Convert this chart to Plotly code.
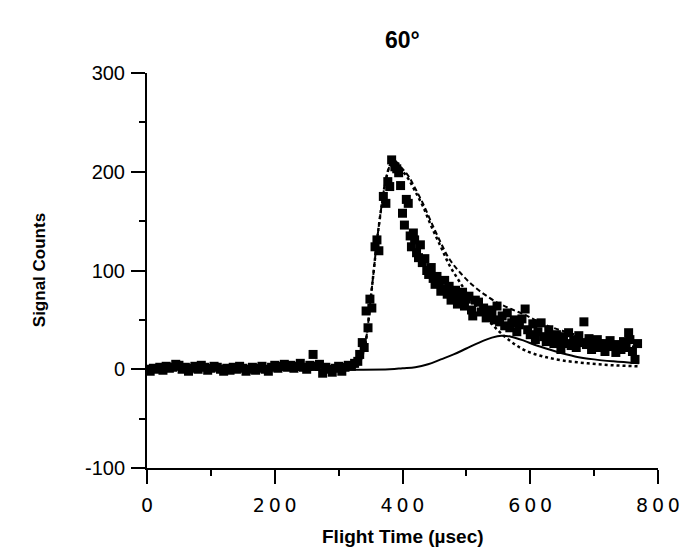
import plotly.graph_objects as go

# measured signal (squares)
data_t = [0, 5, 10, 15, 20, 25, 30, 35, 40, 45, 50, 55, 60, 65, 70, 75, 80, 85, 90, 95,
          100, 105, 110, 115, 120, 125, 130, 135, 140, 145, 150, 155, 160, 165, 170, 175,
          180, 185, 190, 195, 200, 205, 210, 215, 220, 225, 230, 235, 240, 245, 250, 255,
          260, 265, 270, 275, 280, 285, 290, 295, 300, 305, 310, 315, 320, 325, 330,
          333, 337, 340, 343, 346, 349, 352, 357, 360, 363, 370, 374, 377, 380, 383, 388,
          391, 394, 397, 400, 403, 406, 409, 412, 414, 417, 419, 422, 425, 428, 431, 435,
          438, 441, 445, 448, 451, 454, 457, 460, 463, 466, 470, 473, 476, 479, 483, 486,
          490, 494, 497, 500, 504, 508, 510, 514, 519, 523, 527, 531, 535, 540, 544, 548,
          552, 556, 560, 564, 568, 571, 575, 579, 583, 587, 592, 596, 600, 604, 608, 612,
          617, 621, 625, 629, 633, 637, 641, 645, 648, 652, 656, 660, 664, 668, 672, 676,
          680, 684, 688, 692, 696, 700, 705, 709, 713, 717, 721, 725, 730, 734, 738, 742,
          746, 750, 754, 756, 760, 764, 768]
data_counts = [0, -2, 1, 0, 2, -1, 3, 1, 2, 5, 4, 0, 2, -2, 1, 3, 0, 4, 2, -1,
               1, 3, 2, 0, -2, 1, -1, 2, 0, 3, 1, -2, 0, 2, -1, 1,
               3, 0, -2, 2, 4, 1, 3, 5, 2, 4, 1, 3, 6, 2, 0, 4,
               15, 3, 5, -4, 2, 0, -3, 1, 3, -2, 2, 4, 3, 6, 8,
               15, 27, 22, 59, 42, 71, 62, 124, 131, 120, 175, 168, 190, 185, 212, 205,
               203, 199, 186, 158, 146, 172, 168, 135, 124, 138, 131, 118, 113, 126, 108, 112,
               100, 96, 103, 92, 86, 94, 88, 79, 81, 90, 76, 84, 70, 74, 80, 66,
               72, 78, 64, 71, 74, 60, 54, 70, 68, 58, 62, 52, 60, 58, 50, 64,
               48, 54, 44, 57, 42, 47, 50, 38, 45, 51, 61, 40, 35, 46, 30, 38,
               47, 33, 28, 40, 32, 26, 35, 29, 20, 33, 26, 37, 24, 30, 22, 34,
               27, 48, 25, 31, 20, 28, 30, 22, 26, 18, 24, 29, 23, 17, 25, 20,
               28, 22, 37, 30, 18, 10, 26]

# fast component (dotted)
fast_t = [0, 300, 320, 330, 340, 345, 350, 355, 360, 365, 370, 375, 380, 386, 392, 400,
          410, 420, 432, 445, 460, 473, 490, 510, 530, 550, 570, 592, 620, 650, 690, 730, 770]
fast_counts = [0, 0, 1, 4, 20, 40, 70, 100, 130, 155, 178, 195, 206, 212, 208, 201,
               192, 180, 165, 145, 124, 106, 88, 69, 53, 39, 28, 19, 13, 9, 6, 4, 3]

# slow component (solid)
slow_t = [0, 380, 400, 420, 440, 460, 480, 500, 520, 540, 555, 570, 590, 610, 640, 670,
          700, 730, 770]
slow_counts = [0, 0, 1, 2, 5, 10, 15, 21, 27, 32, 34, 33, 29, 24, 18, 13, 10, 8, 6]

# total fit (dashed)
total_t = [0, 300, 320, 330, 340, 345, 350, 355, 360, 365, 370, 375, 380, 386, 392, 400,
           410, 420, 432, 445, 460, 473, 490, 510, 530, 550, 570, 592, 620, 650, 690,
           730, 770]
total_counts = [0, 0, 1, 4, 20, 40, 70, 100, 130, 155, 178, 195, 206, 212, 209, 203,
                195, 183, 168, 149, 128, 112, 98, 85, 75, 67, 61, 55, 46, 39, 32, 27, 22]

x_ticks = [0, 200, 400, 600, 800]
x_ticktext = ["0", "2\u20090\u20090", "4\u20090\u20090", "6\u20090\u20090", "8\u20090\u20090"]
y_ticks = [-100, 0, 100, 200, 300]
y_ticktext = ["-100", "0", "100", "200", "300"]

fig = go.Figure()
fig.add_trace(go.Scatter(x=slow_t, y=slow_counts, mode="lines",
                         line=dict(color="black", width=2), line_shape="spline"))
fig.add_trace(go.Scatter(x=fast_t, y=fast_counts, mode="lines",
                         line=dict(color="black", width=2.5, dash="dot"), line_shape="spline"))
fig.add_trace(go.Scatter(x=total_t, y=total_counts, mode="lines",
                         line=dict(color="black", width=2, dash="5px,3px"), line_shape="spline"))
fig.add_trace(go.Scatter(x=data_t, y=data_counts, mode="markers",
                         marker=dict(symbol="square", size=9, color="black")))

# page body has an 8px margin, so the figure is a bit smaller than the window
fig.update_layout(
    width=684, height=550,
    margin=dict(l=139, r=27, t=65, b=90),
    paper_bgcolor="white", plot_bgcolor="white",
    showlegend=False,
    font=dict(family="Liberation Sans, Arial", color="black"),
    xaxis=dict(range=[0, 800], tickvals=x_ticks, ticktext=x_ticktext,
               showline=True, linecolor="black", linewidth=2,
               ticks="outside", ticklen=14, tickwidth=2, tickcolor="black",
               minor=dict(ticks="outside", ticklen=6, tickwidth=2, dtick=100, tickcolor="black"),
               showgrid=False, zeroline=False, ticklabelstandoff=5,
               tickfont=dict(family="DejaVu Sans", size=19)),
    yaxis=dict(range=[-100, 300], tickvals=y_ticks, ticktext=y_ticktext,
               showline=True, linecolor="black", linewidth=2,
               ticks="outside", ticklen=14, tickwidth=2, tickcolor="black",
               minor=dict(ticks="outside", ticklen=6, tickwidth=2, dtick=50, tickcolor="black"),
               showgrid=False, zeroline=False, ticklabelstandoff=2,
               tickfont=dict(family="Liberation Sans", size=20)),
    annotations=[
        dict(text="<b>60°</b>", x=0.5, y=1.083, xref="paper", yref="paper",
             xanchor="center", yanchor="middle", showarrow=False, font=dict(size=23)),
        dict(text="<b>Flight Time (µsec)</b>", x=0.5, y=-0.174, xref="paper", yref="paper",
             xanchor="center", yanchor="middle", showarrow=False, font=dict(size=19)),
        dict(text="<b>Signal Counts</b>", x=-0.21, y=0.5, xref="paper", yref="paper",
             xanchor="center", yanchor="middle", showarrow=False, textangle=-90,
             font=dict(size=17)),
    ],
)

fig.write_html("out.html")
